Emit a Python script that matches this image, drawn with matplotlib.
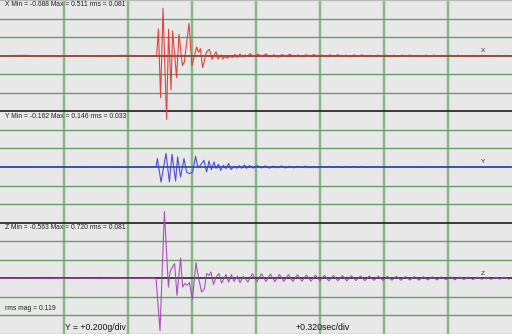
import numpy as np
import matplotlib
matplotlib.use('Agg')
import matplotlib.pyplot as plt

# ---- data (time in s, acceleration in g) ---------------------------------
pre_t = [0.0, 0.12, 0.25, 0.38, 0.50, 0.62, 0.72]
pre_x = [0.0, 0.003, -0.003, 0.002, -0.002, 0.003, 0.0]
pre_y = [0.0, -0.002, 0.002, -0.002, 0.002, -0.002, 0.0]
pre_z = [0.0, 0.002, -0.002, 0.003, -0.002, 0.002, 0.0]

x_t = [0.783, 0.792, 0.803, 0.815, 0.833, 0.843, 0.855, 0.863, 0.883, 0.895,
       0.912, 0.922, 0.945, 0.960, 0.983, 0.993, 1.002, 1.013, 1.033, 1.047,
       1.060, 1.080, 1.090, 1.105, 1.115, 1.127, 1.137, 1.150, 1.162, 1.175,
       1.187, 1.200, 1.213, 1.225, 1.238, 1.250]
x_v = [0.0, 0.288, -0.453, 0.511, -0.688, 0.284, -0.370, 0.266, -0.237, 0.231,
       -0.108, -0.065, 0.349, -0.108, 0.094, 0.036, 0.076, -0.129, 0.043, 0.069,
       -0.039, 0.043, -0.036, 0.008, -0.036, -0.003, -0.028, -0.006, -0.020, 0.015,
       -0.020, 0.018, -0.016, 0.008, -0.006, 0.022]
x_tail = [-0.012, 0.016, -0.008, 0.019, -0.014, 0.010, -0.017, 0.012, -0.006, 0.015,
          -0.011, 0.008, -0.013, 0.010, -0.005, 0.012, -0.009, 0.006, -0.011, 0.009,
          -0.004, 0.010, -0.008, 0.005, -0.009, 0.007, -0.003, 0.008, -0.007, 0.004,
          -0.008, 0.006, -0.003, 0.007, -0.006, 0.004, -0.007, 0.005, -0.002, 0.006,
          -0.005, 0.003, -0.006, 0.004, -0.002, 0.005, -0.004, 0.003, -0.005, 0.004,
          -0.002, 0.004, -0.004, 0.002, -0.004, 0.003, -0.002, 0.004, -0.003, 0.002,
          -0.003, 0.003, -0.002, 0.003, -0.002]

y_t = [0.780, 0.787, 0.805, 0.830, 0.847, 0.860, 0.878, 0.888, 0.903, 0.920,
       0.933, 0.947, 0.963, 0.978, 0.987, 0.995, 1.008, 1.020, 1.033, 1.045,
       1.057, 1.070, 1.080, 1.092, 1.103, 1.117, 1.130, 1.143, 1.155, 1.170,
       1.183, 1.197, 1.208, 1.222, 1.233, 1.247]
y_v = [0.0, 0.091, -0.162, 0.146, -0.160, 0.137, -0.151, 0.108, -0.108, 0.091,
       -0.054, -0.071, -0.054, 0.115, 0.018, 0.0, 0.037, 0.072, -0.054, 0.065,
       -0.028, 0.054, -0.017, 0.029, -0.036, 0.018, -0.017, 0.037, -0.028, 0.008,
       -0.014, 0.015, -0.014, 0.022, -0.014, 0.015]
y_tail = [-0.012, 0.014, -0.010, 0.012, -0.013, 0.009, -0.008, 0.011, -0.010, 0.007,
          -0.009, 0.008, -0.006, 0.009, -0.007, 0.005, -0.007, 0.006, -0.004, 0.006,
          -0.005, 0.004, -0.005, 0.004, -0.003, 0.004, -0.004, 0.003, -0.003, 0.003,
          -0.002, 0.003, -0.003, 0.002, -0.002, 0.002, -0.002, 0.002, -0.001, 0.002,
          -0.002, 0.001, -0.002, 0.001, -0.001, 0.002, -0.001, 0.001, -0.001, 0.001,
          -0.001, 0.001, -0.001, 0.001, -0.001, 0.001, -0.001, 0.001, -0.001, 0.001,
          -0.001, 0.001, -0.001, 0.001, 0.0]

z_t = [0.780, 0.800, 0.822, 0.842, 0.850, 0.862, 0.873, 0.885, 0.903, 0.913,
       0.923, 0.935, 0.947, 0.962, 0.980, 0.992, 1.008, 1.022, 1.033, 1.045,
       1.055, 1.067, 1.083, 1.095, 1.108, 1.130, 1.143, 1.157, 1.170, 1.187,
       1.200, 1.217]
z_v = [0.0, -0.563, 0.720, -0.094, 0.068, 0.122, 0.158, -0.183, 0.219, -0.094,
       -0.057, -0.075, -0.046, -0.226, 0.169, 0.014, -0.148, -0.111, 0.051, 0.032,
       0.068, -0.065, 0.022, 0.051, -0.051, 0.040, -0.040, 0.040, -0.032, 0.025,
       -0.046, 0.022]
z_tail = [-0.040, 0.050, -0.036, 0.048, -0.034, 0.045, -0.035, 0.042, -0.032, 0.040,
          -0.033, 0.038, -0.030, 0.036, -0.031, 0.034, -0.028, 0.032, -0.029, 0.030,
          -0.026, 0.029, -0.027, 0.028, -0.024, 0.026, -0.025, 0.025, -0.022, 0.024,
          -0.023, 0.022, -0.020, 0.022, -0.021, 0.020, -0.018, 0.019, -0.019, 0.018,
          -0.016, 0.017, -0.017, 0.016, -0.014, 0.015, -0.015, 0.014, -0.012, 0.013,
          -0.013, 0.012, -0.010, 0.012, -0.011, 0.010, -0.009, 0.010, -0.009]

stats = {'X': (-0.688, 0.511, 0.081), 'Y': (-0.162, 0.146, 0.033), 'Z': (-0.563, 0.720, 0.081)}
rms_mag = 0.119
g_per_div = 0.200
sec_per_div = 0.320

# ---- layout ---------------------------------------------------------------
BG = '#e8e8e8'
GRID_GREEN = '#6a9f6a'
VLINE_GREEN = '#82b282'
SEP_COLOR = '#1e1e1e'
COLORS = {'X': '#e2322c', 'Y': '#3c3cd8', 'Z': '#a440b4'}
CENTER = {'X': '#7e4636', 'Y': '#2f5a9c', 'Z': '#2c3a2c'}
OFFSET = {'X': 1.2, 'Y': 0.0, 'Z': -1.2}
FONT = 'Liberation Sans'

fig = plt.figure(figsize=(5.12, 3.34), dpi=100)
fig.patch.set_facecolor(BG)
ax = fig.add_axes([0, 0, 1, 1])
ax.set_facecolor(BG)
ax.set_xlim(0, 8 * sec_per_div)
ax.set_ylim(-9 * g_per_div, 9 * g_per_div)
ax.axis('off')

# vertical divisions
for i in range(1, 8):
    ax.axvline(i * sec_per_div, color='#cfe0cf', lw=3.0, zorder=1)
    ax.axvline(i * sec_per_div, color=VLINE_GREEN, lw=1.3, zorder=1)

# horizontal divisions (every third one is a panel border / centre line)
for k in range(-8, 9):
    if k % 3 == 0:
        continue
    ax.axhline(k * g_per_div, color=GRID_GREEN, lw=1.0, zorder=1)
for yy in (-3 * g_per_div, 3 * g_per_div):
    ax.axhline(yy, color=SEP_COLOR, lw=1.2, zorder=2)
ax.axhline(-9 * g_per_div + 0.004, color='#9a9a9a', lw=1.0, zorder=2)
ax.axhline(9 * g_per_div - 0.004, color='#b8b8b8', lw=1.0, zorder=2)

traces = {
    'X': (x_t, x_v, x_tail, 0.02),
    'Y': (y_t, y_v, y_tail, 0.02),
    'Z': (z_t, z_v, z_tail, 0.0225),
}
pre_vals = {'X': pre_x, 'Y': pre_y, 'Z': pre_z}

for name, (bt, bv, tail, dt) in traces.items():
    off = OFFSET[name]
    t_tail = bt[-1] + dt * np.arange(1, len(tail) + 1)
    t_all = np.concatenate([pre_t, bt, t_tail])
    v_all = np.concatenate([pre_vals[name], bv, tail])
    ax.axhline(off, color=CENTER[name], lw=1.3, zorder=3)
    ax.plot(t_all, v_all + off, color=COLORS[name], lw=0.8, alpha=0.9, zorder=4)
    ax.text(2.405, off + 0.055, name, fontsize=4.6, family=FONT,
            color='#222222', va='center', zorder=5)
    mn, mx, rms = stats[name]
    ax.text(0.025, off + 0.547,
            f'{name} Min = {mn:.3f} Max = {mx:.3f} rms = {rms:.3f}',
            fontsize=4.9, family=FONT, color='#222222', va='center', zorder=5)

ax.text(0.025, -1.53, f'rms mag = {rms_mag:.3f}', fontsize=4.9, family=FONT,
        color='#222222', va='center', zorder=5)
ax.text(0.325, -1.725, f'Y = +{g_per_div:.3f}g/div', fontsize=6.2, family=FONT,
        color='#111111', va='center', zorder=5)
ax.text(1.48, -1.725, f'+{sec_per_div:.3f}sec/div', fontsize=6.3, family=FONT,
        color='#111111', va='center', zorder=5)

fig.savefig('out.png', dpi=100, facecolor=BG)
